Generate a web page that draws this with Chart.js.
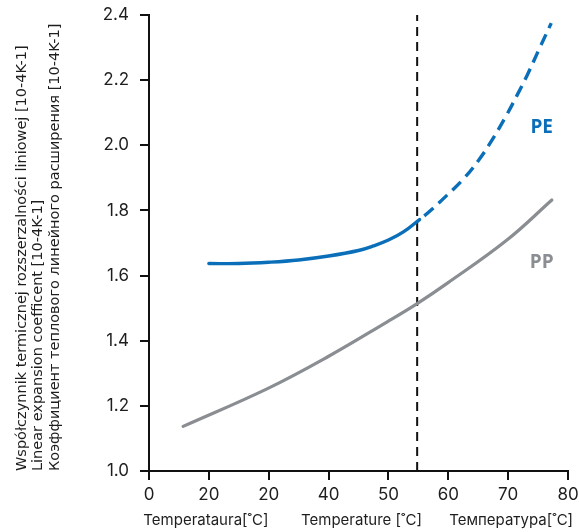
<!DOCTYPE html>
<html>
<head>
<meta charset="utf-8">
<script src="https://cdn.jsdelivr.net/npm/chart.js@4"></script>
<style>
  html, body { margin: 0; padding: 0; background: #fff; }
  #wrap { width: 579px; height: 532px; }
</style>
</head>
<body>
<div id="wrap"><canvas id="c" width="579" height="532"></canvas></div>
<script>
// x axis is an evenly spaced scale; tick labels are printed as in the source
const xLabels = ["0", "20", "20", "40", "50", "60", "70", "80"];
const yTicks = [1.0, 1.2, 1.4, 1.6, 1.8, 2.0, 2.2, 2.4];

// PE, measured part (solid)
const peSolidX = [1.0, 1.5, 2.0, 2.5, 3.0, 3.5, 3.75, 4.0, 4.25, 4.52];
const peSolidY = [1.637, 1.637, 1.641, 1.648, 1.660, 1.677, 1.691, 1.709, 1.734, 1.772];
// PE, extrapolated part (dashed)
const peDashX = [4.52, 4.68, 4.98, 5.26, 5.51, 5.73, 5.96, 6.15, 6.32, 6.51, 6.72];
const peDashY = [1.772, 1.796, 1.847, 1.898, 1.955, 2.016, 2.088, 2.154, 2.216, 2.292, 2.375];
// PP
const ppX = [0.57, 1.98, 2.98, 3.98, 4.48, 4.98, 5.98, 6.73];
const ppY = [1.137, 1.253, 1.350, 1.458, 1.514, 1.576, 1.709, 1.832];
// vertical reference line
const vlineX = [4.48, 4.48];
const vlineY = [1.0, 2.4];

const yTitle = [
  "Współczynnik termicznej rozszerzalności liniowej [10-4K-1]",
  "Linear expansion coefficent [10-4K-1]",
  "Коэффициент теплового линейного расширения [10-4K-1]",
];
const xTitles = ["Temperataura[˚C]", "Temperature [˚C]", "Температура[˚C]"];

const BLUE = "#0a6fb8";
const GREY = "#8a8d92";
const INK = "#1e1e1e";
const FONT = "Inter, 'Open Sans', sans-serif";

const pts = (xs, ys) => xs.map((x, i) => ({ x, y: ys[i] }));

const extraText = {
  id: "extraText",
  afterDraw(chart) {
    const { ctx, chartArea } = chart;
    const xs = chart.scales.x, ys = chart.scales.y;
    ctx.save();
    ctx.fillStyle = INK;

    // bottom titles (three languages)
    ctx.font = "15px " + FONT;
    ctx.textAlign = "center";
    ctx.textBaseline = "middle";
    const cx = [xs.getPixelForValue(0.95), xs.getPixelForValue(3.55), xs.getPixelForValue(6.05)];
    xTitles.forEach((t, i) => ctx.fillText(t, cx[i], chartArea.bottom + 49));

    // rotated y titles, bottom-aligned with the axis
    ctx.font = "14.5px 'DejaVu Sans', sans-serif";
    ctx.textAlign = "left";
    const lx = [22, 38.5, 55];
    yTitle.forEach((t, i) => {
      ctx.save();
      ctx.translate(lx[i], chartArea.bottom);
      ctx.rotate(-Math.PI / 2);
      ctx.fillText(t, 0, 0);
      ctx.restore();
    });

    // series labels
    ctx.textAlign = "center";
    ctx.font = "bold 19px 'Open Sans', sans-serif";
    ctx.fillStyle = BLUE;
    ctx.fillText("PE", xs.getPixelForValue(6.56), ys.getPixelForValue(2.053));
    ctx.fillStyle = GREY;
    ctx.fillText("PP", xs.getPixelForValue(6.56), ys.getPixelForValue(1.641));
    ctx.restore();
  },
};

new Chart(document.getElementById("c"), {
  type: "line",
  data: {
    datasets: [
      {
        data: pts(vlineX, vlineY),
        borderColor: "#111", borderWidth: 2, borderDash: [9, 6],
        pointRadius: 0, tension: 0, order: 3,
      },
      {
        data: pts(ppX, ppY),
        borderColor: GREY, borderWidth: 3.2, borderCapStyle: "round",
        pointRadius: 0, tension: 0.4, order: 2,
      },
      {
        data: pts(peSolidX, peSolidY),
        borderColor: BLUE, borderWidth: 3.4, borderCapStyle: "round",
        pointRadius: 0, tension: 0.4, order: 1,
      },
      {
        data: pts(peDashX, peDashY),
        borderColor: BLUE, borderWidth: 3.4, borderDash: [12, 7], borderDashOffset: -6,
        pointRadius: 0, tension: 0.4, order: 1,
      },
    ],
  },
  options: {
    responsive: false,
    animation: false,
    events: [],
    layout: { padding: { top: 15, right: 11, left: 0, bottom: 0 } },
    plugins: { legend: { display: false }, tooltip: { enabled: false } },
    scales: {
      x: {
        type: "linear", min: 0, max: 7,
        afterFit: s => { s.height = 61; s.paddingLeft = 0; s.paddingRight = 0; },
        afterBuildTicks: s => { s.ticks = xLabels.map((_, i) => ({ value: i })); },
        border: { display: true, color: "#111", width: 2 },
        grid: { drawOnChartArea: false, drawTicks: true, tickLength: 9, color: "#111", lineWidth: 2 },
        ticks: {
          color: INK, padding: 5, font: { family: FONT, size: 17 },
          callback: v => xLabels[v],
        },
      },
      y: {
        min: 1.0, max: 2.4,
        afterFit: s => { s.width = 149; s.paddingTop = 0; s.paddingBottom = 0; },
        afterBuildTicks: s => { s.ticks = yTicks.map(v => ({ value: v })); },
        border: { display: true, color: "#111", width: 2 },
        grid: { drawOnChartArea: false, drawTicks: true, tickLength: 9, color: "#111", lineWidth: 2 },
        ticks: {
          color: INK, padding: 11, font: { family: FONT, size: 17 },
          callback: v => Number(v).toFixed(1),
        },
      },
    },
  },
  plugins: [extraText],
});
</script>
</body>
</html>
